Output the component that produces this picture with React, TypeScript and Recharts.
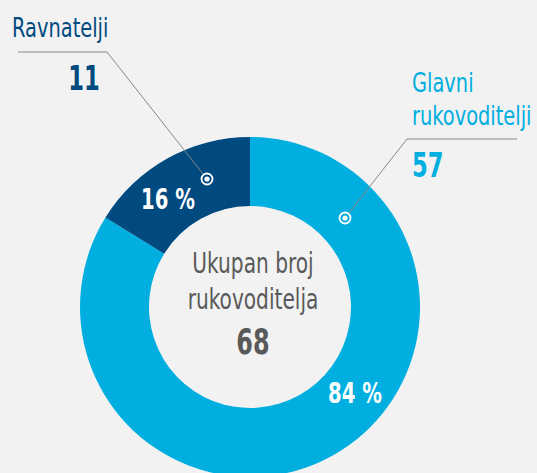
import { PieChart, Pie, Cell } from 'recharts';

const categories = ['Glavni rukovoditelji', 'Ravnatelji'];
const values = [57, 11];
const nameLines = [['Glavni', 'rukovoditelji'], ['Ravnatelji']];
const centerLines = ['Ukupan broj', 'rukovoditelja'];

const data = categories.map((name, i) => ({ name, value: values[i] }));
const total = values.reduce((a, b) => a + b, 0);

const colors = ['#00aee0', '#004a80'];
const font = "'DejaVu Sans Condensed', 'DejaVu Sans', sans-serif";

// label layout, offsets from the pie centre
const layout = [
  {
    pct: [105, 86],
    dot: [95, -89],
    line: [[157, -168], [267, -168]],
    name: [162, -215],
    nameAnchor: 'start',
    value: [162, -130],
    valueAnchor: 'start',
  },
  {
    pct: [-82, -108],
    dot: [-43, -128],
    line: [[-143, -255], [-232, -255]],
    name: [-238, -270],
    nameAnchor: 'start',
    value: [-166, -217],
    valueAnchor: 'middle',
  },
];

// narrow text: the original uses a condensed face
// eslint-disable-next-line @typescript-eslint/no-explicit-any
function T({ x, y, sx = 0.8, anchor = 'middle', children, ...rest }: any) {
  return (
    <text
      transform={`translate(${x},${y}) scale(${sx},1)`}
      textAnchor={anchor}
      fontFamily={font}
      {...rest}
    >
      {children}
    </text>
  );
}

// eslint-disable-next-line @typescript-eslint/no-explicit-any
function renderLabel(props: any) {
  const { cx, cy, index } = props;
  const l = layout[index];
  const c = colors[index];
  const pct = Math.round((values[index] / total) * 100);
  const pts = [l.dot, ...l.line].map(([x, y]) => `${cx + x},${cy + y}`).join(' ');
  return (
    <g key={`lbl-${index}`}>
      <polyline points={pts} fill="none" stroke="#888" strokeWidth={1} />
      <circle cx={cx + l.dot[0]} cy={cy + l.dot[1]} r={5.5} fill={c} stroke="#fff" strokeWidth={1.8} />
      <circle cx={cx + l.dot[0]} cy={cy + l.dot[1]} r={2.6} fill="#fff" />
      <T x={cx + l.pct[0]} y={cy + l.pct[1] + 10} sx={0.78} fill="#fff" fontSize={28} fontWeight="bold">
        {pct} %
      </T>
      {nameLines[index].map((s, k) => (
        <T key={k} x={cx + l.name[0]} y={cy + l.name[1] + k * 33} anchor={l.nameAnchor} fill={c} fontSize={27}>
          {s}
        </T>
      ))}
      <T x={cx + l.value[0]} y={cy + l.value[1]} sx={0.74} anchor={l.valueAnchor} fill={c} fontSize={34} fontWeight="bold">
        {values[index]}
      </T>
      {index === 0 && (
        <g>
          {centerLines.map((s, k) => (
            <T key={k} x={cx + 3} y={cy - 34 + k * 36} fill="#595959" fontSize={28}>
              {s}
            </T>
          ))}
          <T x={cx + 3} y={cy + 47} sx={0.76} fill="#595959" fontSize={35} fontWeight="bold">
            {total}
          </T>
        </g>
      )}
    </g>
  );
}

export default function App() {
  return (
    <div style={{ position: 'absolute', left: 0, top: 0, width: 537, height: 473, background: '#f2f2f2' }}>
      <PieChart width={537} height={473} margin={{ top: 0, right: 0, bottom: 0, left: 0 }}>
        <Pie
          data={data}
          dataKey="value"
          cx={250}
          cy={307}
          innerRadius={101}
          outerRadius={170}
          startAngle={90}
          endAngle={-270}
          stroke="none"
          label={renderLabel}
          labelLine={false}
          isAnimationActive={false}
        >
          {data.map((_, i) => (
            <Cell key={i} fill={colors[i]} />
          ))}
        </Pie>
      </PieChart>
    </div>
  );
}
